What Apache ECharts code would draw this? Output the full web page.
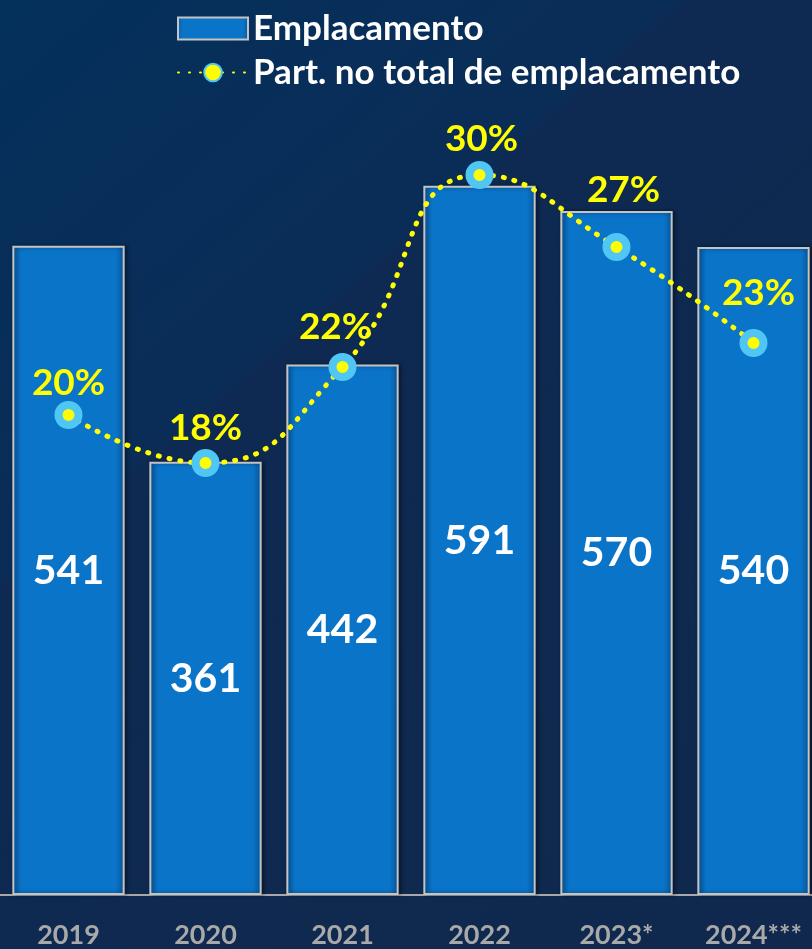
<!DOCTYPE html>
<html>
<head>
<meta charset="utf-8">
<script src="https://cdn.jsdelivr.net/npm/echarts@6/dist/echarts.min.js"></script>
<style>
  html, body { margin: 0; padding: 0; background: #0e2a52; }
  /* 固定大小，和参考图一致 */
  #myChart { width: 812px; height: 949px; }
</style>
</head>
<body>
<div id="myChart"></div>
<script>
// 数据
var years = ['2019', '2020', '2021', '2022', '2023*', '2024***']
var emplacamento = [541, 361, 442, 591, 570, 540]
var participacao = [20, 18, 22, 30, 27, 23]

// 百分比标签位置微调 [dx, dy]
var pctShift = [[0, 1], [0, -2], [-7, -7], [2, -3], [7, -24], [5, -17]]

var font = 'Lato, "Open Sans", sans-serif'

var barColor = {
  type: 'linear', x: 0, y: 0, x2: 1, y2: 0,
  colorStops: [
    { offset: 0, color: '#0a5ea6' },
    { offset: 0.08, color: '#0a74c9' },
    { offset: 0.92, color: '#0a74c9' },
    { offset: 1, color: '#07569a' }
  ]
}

var myChart = echarts.init(document.getElementById('myChart'))
myChart.setOption({
  backgroundColor: {
    type: 'linear', x: 0, y: 0, x2: 1, y2: 1,
    colorStops: [
      { offset: 0, color: '#04305c' },
      { offset: 0.35, color: '#0a2d57' },
      { offset: 0.36, color: '#0e2a52' },
      { offset: 1, color: '#10284d' }
    ]
  },
  legend: {
    orient: 'vertical',
    left: 172,
    top: 5,
    itemWidth: 70,
    itemHeight: 22,
    itemGap: 7,
    textStyle: {
      color: '#ffffff',
      fontFamily: font,
      fontWeight: 'bold',
      fontSize: 35,
      lineHeight: 37
    },
    data: [
      { name: 'Emplacamento', icon: 'rect' },
      'Part. no total de emplacamento'
    ]
  },
  grid: { left: 0, width: 822, top: 55, bottom: 54, containLabel: false, outerBoundsMode: 'none' },
  xAxis: {
    type: 'category',
    data: years,
    axisLine: { lineStyle: { color: '#a8a8a8', width: 2 } },
    axisTick: { length: 9, lineStyle: { color: '#a8a8a8', width: 2 } },
    axisLabel: {
      color: '#a9a9a9',
      fontFamily: font,
      fontWeight: 'bold',
      fontSize: 27,
      margin: 27
    }
  },
  yAxis: [
    { type: 'value', min: 0, max: 700, show: false },
    { type: 'value', min: 0, max: 35, show: false }
  ],
  series: [
    {
      name: 'Emplacamento',
      type: 'bar',
      barWidth: '82%',
      data: emplacamento,
      itemStyle: {
        color: barColor,
        borderColor: '#c4c4c4',
        borderWidth: 2,
        shadowColor: 'rgba(0,0,0,0.4)',
        shadowBlur: 4,
        shadowOffsetX: 2
      },
      label: {
        show: true,
        position: 'inside',
        color: '#ffffff',
        fontFamily: font,
        fontWeight: 'bold',
        fontSize: 41
      }
    },
    {
      name: 'Part. no total de emplacamento',
      type: 'line',
      yAxisIndex: 1,
      smooth: true,
      z: 5,
      symbol: 'circle',
      symbolSize: 20,
      data: participacao.map(function (v, i) {
        return { value: v, label: { offset: pctShift[i] } }
      }),
      lineStyle: { color: '#ffff00', width: 5, type: [1, 10], cap: 'round' },
      itemStyle: { color: '#ffff00', borderColor: '#50c6f4', borderWidth: 8 },
      label: {
        show: true,
        position: 'top',
        distance: 0,
        formatter: '{c}%',
        color: '#ffff00',
        fontFamily: font,
        fontWeight: 'bold',
        fontSize: 37
      }
    }
  ]
})
</script>
</body>
</html>
